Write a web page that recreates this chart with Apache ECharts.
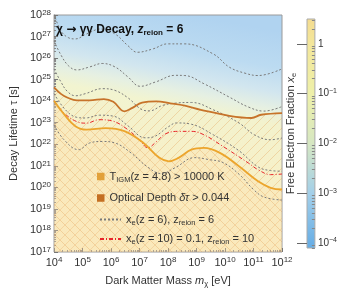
<!DOCTYPE html>
<html><head><meta charset="utf-8">
<script src="https://cdn.jsdelivr.net/npm/echarts@6/dist/echarts.min.js"></script>
<style>html,body{margin:0;padding:0;background:#fff}#c{width:340px;height:299px}</style>
</head><body><div id="c"></div>
<script>
// ---- data: points are [log10(mass / eV), log10(lifetime / s)] ----
const massTickExps = [4, 5, 6, 7, 8, 9, 10, 11, 12];
const tauTickExps = [17, 18, 19, 20, 21, 22, 23, 24, 25, 26, 27, 28];
const colorbarTickExps = [0, -1, -2, -3, -4];
const colorbarRange = [-4.1, 0.5];

const opticalDepth = [[4.0,24.64],[4.24,24.34],[4.48,24.16],[4.8,24.04],[5.25,24.04],[5.75,24.1],[6.08,23.97],[6.47,23.53],[6.75,23.69],[7.09,23.93],[7.59,23.99],[8.08,23.9],[8.59,23.79],[9.15,23.6],[10.15,23.32],[10.93,23.22],[11.27,23.37],[12.0,23.45]];
const tigm = [[4.0,24.02],[4.35,23.4],[4.75,22.84],[5.14,22.68],[5.81,22.75],[6.47,22.61],[7.14,22.06],[7.7,21.37],[8.03,21.21],[8.37,21.37],[8.82,21.75],[9.26,21.83],[9.82,21.6],[10.49,20.98],[11.16,20.28],[11.6,19.98],[12.0,19.9]];
const xeZ10 = [[4.0,24.02],[4.35,23.45],[4.8,23.05],[5.14,22.98],[5.58,23.14],[6.02,23.09],[6.59,22.68],[7.02,22.17],[7.29,21.84],[7.59,22.12],[7.92,22.49],[8.37,22.6],[8.82,22.6],[9.26,22.44],[9.93,21.9],[10.82,21.13],[11.16,20.82],[11.6,20.59],[12.0,20.62]];
const xeZ6a = [[4.0,28.05],[4.24,27.27],[4.5,26.95],[4.75,26.89],[5.14,27.12],[5.64,27.35],[6.14,27.12],[6.59,26.58],[6.92,26.27],[7.48,26.43],[7.98,26.66],[8.59,26.66],[9.59,26.19],[10.15,25.58],[10.7,25.3],[11.16,25.19],[12.0,25.5]];
const xeZ6b = [[4.0,26.8],[4.24,26.15],[4.51,25.64],[4.8,25.45],[5.25,25.59],[5.69,25.75],[6.14,25.59],[6.59,25.13],[7.02,24.69],[7.58,24.9],[8.25,25.2],[8.59,25.19],[9.26,24.81],[10.15,24.19],[10.82,23.73],[11.37,23.54],[12.0,23.75]];
const xeZ6c = [[4.0,25.5],[4.24,24.9],[4.47,24.45],[4.75,24.25],[5.1,24.35],[5.69,24.58],[6.14,24.5],[6.6,24.15],[7.1,23.6],[7.35,23.55],[7.8,23.8],[8.26,23.91],[8.82,23.94],[9.59,23.6],[10.49,22.99],[11.03,22.44],[11.6,22.21],[12.0,22.29]];
const xeZ6d = [[4.0,24.35],[4.4,23.6],[4.8,23.25],[5.1,23.22],[5.6,23.35],[6.1,23.3],[6.6,22.85],[7.2,22.3],[7.5,22.35],[8.0,22.8],[8.3,22.99],[8.82,22.93],[9.59,22.44],[10.49,21.7],[11.16,20.95],[11.6,20.78],[12.0,20.75]];
const xeZ6e = [[4.0,22.9],[4.35,22.21],[4.86,21.75],[5.25,22.06],[5.69,22.13],[6.14,22.06],[6.7,21.6],[7.25,20.98],[7.76,20.64],[8.26,20.92],[8.93,21.38],[9.43,21.29],[9.93,21.15],[10.5,20.6],[11.0,19.9],[11.37,19.55],[12.0,19.41]];

const legendText = {
  tigm: '{t|T}{sub|IGM}{t|(z = 4.8) > 10000 K}',
  tau: '{t|Optical Depth }{it|δτ}{t| > 0.044}',
  xe6: '{t|x}{sub|e}{t|(z = 6), z}{sub|reion}{t| = 6}',
  xe10: '{t|x}{sub|e}{t|(z = 10) = 0.1, z}{sub|reion}{t| = 10}'
};

// ---- helpers ----
const toVal = pts => pts.map(p => [Math.pow(10, p[0]), Math.pow(10, p[1])]);
function minorVals(lo, hi) { const out = []; for (let k = lo; k < hi; k++) for (let j = 2; j <= 9; j++) out.push(j * Math.pow(10, k)); return out; }
function minorExps(lo, hi) { const out = []; for (let k = Math.floor(lo); k < Math.ceil(hi); k++) for (let j = 2; j <= 9; j++) { const v = k + Math.log10(j); if (v > lo && v < hi) out.push(v); } return out; }
function hatch(dir, bg, stroke) {
  const s = 10, c = document.createElement('canvas'); c.width = s; c.height = s;
  const g = c.getContext('2d');
  if (bg) { g.fillStyle = bg; g.fillRect(0, 0, s, s); }
  g.strokeStyle = stroke; g.lineWidth = 1; g.beginPath();
  if (dir > 0) { g.moveTo(-1, s + 1); g.lineTo(s + 1, -1); g.moveTo(-1, 1); g.lineTo(1, -1); g.moveTo(s - 1, s + 1); g.lineTo(s + 1, s - 1); }
  else { g.moveTo(-1, -1); g.lineTo(s + 1, s + 1); g.moveTo(s - 1, -1); g.lineTo(s + 1, 1); g.moveTo(-1, s - 1); g.lineTo(1, s + 1); }
  g.stroke(); return c;
}
const FONT = 'Liberation Sans, Arial, sans-serif';
const supRich = { b: { fontSize: 11, color: '#333', fontFamily: FONT, lineHeight: 13 }, s: { fontSize: 8, color: '#333', fontFamily: FONT, verticalAlign: 'top', lineHeight: 8 } };
const expLabel = v => '{b|10}{s|' + Math.round(Math.log10(v)) + '}';
const txtRich = {
  t: { fontSize: 11, color: '#333', fontFamily: FONT, lineHeight: 14 },
  it: { fontSize: 11, color: '#333', fontFamily: FONT, fontStyle: 'italic', lineHeight: 14 },
  sub: { fontSize: 7.5, color: '#333', fontFamily: FONT, verticalAlign: 'bottom', lineHeight: 7 }
};

const dashed = (name, d) => ({ name, type: 'line', data: toVal(d), smooth: 0.4, symbol: 'none', z: 4,
  lineStyle: { color: '#7a7a7a', width: 1, type: [2, 2] } });

const option = {
  animation: false,
  backgroundColor: '#fff',
  title: { text: '{b|χ }{ar|→}{b| γγ Decay, }{bi|z}{sub|reion}{b| = 6}', left: 51, top: 17,
    textStyle: { rich: {
      b: { fontSize: 12, fontWeight: 'bold', color: '#111', fontFamily: FONT, lineHeight: 15 },
      ar: { fontSize: 12, fontWeight: 'bold', color: '#111', fontFamily: 'DejaVu Sans', lineHeight: 15 },
      bi: { fontSize: 12, fontWeight: 'bold', fontStyle: 'italic', color: '#111', fontFamily: FONT, lineHeight: 15 },
      sub: { fontSize: 8, fontWeight: 'bold', color: '#111', fontFamily: FONT, verticalAlign: 'bottom', lineHeight: 7 } } } },
  grid: [
    { left: 43, right: 58, top: 15, bottom: 47, show: true, borderColor: '#9a9a9a', borderWidth: 1,
      backgroundColor: { type: 'linear', x: 0.6, y: 0, x2: 0.4, y2: 1, colorStops: [
        { offset: 0, color: '#b0d3f0' }, { offset: 0.15, color: '#bcdbf1' }, { offset: 0.25, color: '#d2e6ef' },
        { offset: 0.32, color: '#e6f0e2' }, { offset: 0.38, color: '#f2f4d0' }, { offset: 0.6, color: '#f6f2cb' },
        { offset: 1, color: '#f8f0c6' }] } },
    { left: 307, width: 10, top: 19, height: 229, show: true, borderColor: '#aaa', borderWidth: 1,
      backgroundColor: { type: 'linear', x: 0, y: 0, x2: 0, y2: 1, colorStops: [
        { offset: 0, color: '#f4dc90' }, { offset: 0.109, color: '#f3e69b' }, { offset: 0.326, color: '#eef0a9' },
        { offset: 0.543, color: '#d6e7c2' }, { offset: 0.761, color: '#a3cfe9' }, { offset: 0.978, color: '#6aafe5' },
        { offset: 1, color: '#66ade5' }] } }
  ],
  legend: [
    { left: 92, top: 166, orient: 'vertical', itemWidth: 7.5, itemHeight: 7.5, itemGap: 9, selectedMode: false,
      data: [{ name: 'tigm', icon: 'rect', itemStyle: { color: '#e2a13a' } }, { name: 'tau', icon: 'rect', itemStyle: { color: '#c46f22' } }],
      formatter: n => legendText[n], textStyle: { rich: txtRich } },
    { left: 94, top: 209, orient: 'vertical', itemWidth: 21, itemHeight: 8, itemGap: 7, selectedMode: false,
      itemStyle: { opacity: 0 },
      data: ['xe6', 'xe10'], formatter: n => legendText[n], textStyle: { rich: txtRich } }
  ],
  xAxis: [
    { type: 'log', gridIndex: 0, min: 1e4, max: 1e12, interval: 1, axisLine: { show: false },
      axisTick: { inside: true, length: 4, lineStyle: { color: '#777' } },
      axisLabel: { formatter: expLabel, rich: supRich, margin: 4 }, splitLine: { show: false },
      name: '{t|Dark Matter Mass }{it|m}{sub|χ}{t| [eV]}', nameLocation: 'middle', nameGap: 22,
      nameTextStyle: { rich: txtRich } },
    { type: 'log', gridIndex: 0, min: 1e4, max: 1e12, position: 'bottom', axisLine: { show: false },
      axisTick: { inside: true, length: 2, customValues: minorVals(4, 12), lineStyle: { color: '#888' } },
      axisLabel: { show: false }, splitLine: { show: false } },
    { type: 'value', gridIndex: 1, min: 0, max: 1, show: false }
  ],
  yAxis: [
    { type: 'log', gridIndex: 0, min: 1e17, max: 1e28, interval: 1, axisLine: { show: false },
      axisTick: { inside: true, length: 4, lineStyle: { color: '#777' } },
      axisLabel: { formatter: expLabel, rich: supRich, margin: 3 }, splitLine: { show: false },
      name: 'Decay Lifetime τ [s]', nameLocation: 'middle', nameGap: 30,
      nameTextStyle: { fontSize: 11, color: '#333', fontFamily: FONT } },
    { type: 'log', gridIndex: 0, min: 1e17, max: 1e28, position: 'left', axisLine: { show: false },
      axisTick: { inside: true, length: 2, customValues: minorVals(17, 28), lineStyle: { color: '#888' } },
      axisLabel: { show: false }, splitLine: { show: false } },
    { type: 'value', gridIndex: 1, min: colorbarRange[0], max: colorbarRange[1], position: 'right', axisLine: { show: false },
      axisTick: { inside: true, length: 10, customValues: colorbarTickExps, lineStyle: { color: '#666' } },
      axisLabel: { customValues: colorbarTickExps, margin: 3, rich: { b: { fontSize: 10, color: '#333', fontFamily: FONT, lineHeight: 12 }, s: { fontSize: 7, color: '#333', fontFamily: FONT, verticalAlign: 'top', lineHeight: 7 } },
        formatter: v => Math.round(v) === 0 ? '{b|1}' : '{b|10}{s|−' + Math.round(-v) + '}' }, splitLine: { show: false } },
    { type: 'value', gridIndex: 1, min: colorbarRange[0], max: colorbarRange[1], position: 'right', axisLine: { show: false },
      axisTick: { inside: true, length: 3, customValues: minorExps(colorbarRange[0], colorbarRange[1]), lineStyle: { color: '#888' } },
      axisLabel: { show: false }, splitLine: { show: false } },
    { type: 'value', gridIndex: 1, min: colorbarRange[0], max: colorbarRange[1], position: 'left', axisLine: { show: false },
      axisTick: { show: false }, axisLabel: { show: false }, splitLine: { show: false },
      name: '{t|Free Electron Fraction }{it|x}{sub|e}', nameLocation: 'middle', nameGap: 9, nameRotate: 90,
      nameTextStyle: { rich: txtRich } }
  ],
  series: [
    { name: 'tau', type: 'line', data: toVal(opticalDepth), smooth: 0.4, symbol: 'none', z: 2,
      lineStyle: { width: 0 }, areaStyle: { origin: 'start', color: { image: hatch(1, 'rgba(252,225,170,0.12)', 'rgba(228,160,85,0.5)'), repeat: 'repeat' } } },
    { name: 'tigm', type: 'line', data: toVal(tigm), smooth: 0.4, symbol: 'none', z: 3,
      lineStyle: { width: 0 }, areaStyle: { origin: 'start', color: { image: hatch(-1, 'rgba(255,215,160,0.36)', 'rgba(228,160,85,0.5)'), repeat: 'repeat' } } },
    dashed('xe6', xeZ6a), dashed('xe6', xeZ6b), dashed('xe6', xeZ6c), dashed('xe6', xeZ6d), dashed('xe6', xeZ6e),
    { name: 'xe10', type: 'line', data: toVal(xeZ10), smooth: 0.4, symbol: 'none', z: 5,
      lineStyle: { color: '#e8262a', width: 1, type: [4, 2, 1, 2] } },
    { name: 'tauLine', type: 'line', data: toVal(opticalDepth), smooth: 0.4, symbol: 'none', z: 6,
      lineStyle: { color: '#c7732a', width: 1.8 } },
    { name: 'tigmLine', type: 'line', data: toVal(tigm), smooth: 0.4, symbol: 'none', z: 6,
      lineStyle: { color: '#eca52c', width: 1.8 } }
  ]
};
const chart = echarts.init(document.getElementById('c'), null, { renderer: 'canvas' });
chart.setOption(option);
</script></body></html>
